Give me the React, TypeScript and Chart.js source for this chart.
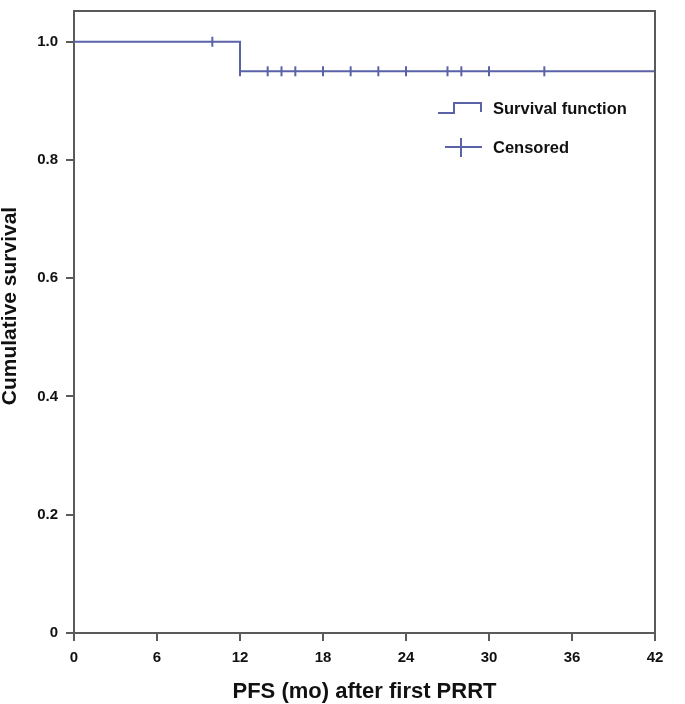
import React, { useEffect, useRef } from "react";
import { Chart, registerables } from "chart.js";

Chart.register(...registerables);

const stepTimes = [0, 12, 12, 42];
const stepSurvival = [1.0, 1.0, 0.95, 0.95];
const censoredTimes = [10, 12, 14, 15, 16, 18, 20, 22, 24, 27, 28, 30, 34];
const censoredSurvival = [1.0, 0.95, 0.95, 0.95, 0.95, 0.95, 0.95, 0.95, 0.95, 0.95, 0.95, 0.95, 0.95];
const xTicks = [0, 6, 12, 18, 24, 30, 36, 42];
const yTicks = [0, 0.2, 0.4, 0.6, 0.8, 1.0];
const legendLabels = ["Survival function", "Censored"];
const yTitle = "Cumulative survival";
const xTitle = "PFS (mo) after first PRRT";

const LINE = "#5b63a8";
const AXIS = "#5a5a5a";
const FONT = "Arial, 'Liberation Sans', sans-serif";

export default function App() {
  const ref = useRef<HTMLCanvasElement>(null);
  useEffect(() => {
    document.body.style.margin = "0";
    const framePlugin = {
      id: "frame",
      afterDraw(chart: any) {
        const { ctx, chartArea: a } = chart;
        ctx.save();
        ctx.strokeStyle = AXIS;
        ctx.lineWidth = 2;
        ctx.beginPath();
        ctx.moveTo(a.left, a.top);
        ctx.lineTo(a.right, a.top);
        ctx.lineTo(a.right, a.bottom);
        ctx.stroke();
        // y title
        ctx.save();
        ctx.translate(10, 306);
        ctx.rotate(-Math.PI / 2);
        ctx.fillStyle = "#111";
        ctx.font = "bold 21px " + FONT;
        ctx.textAlign = "center";
        ctx.textBaseline = "middle";
        ctx.fillText(yTitle, 0, 0);
        ctx.restore();
        // legend
        ctx.strokeStyle = LINE;
        ctx.lineWidth = 2;
        ctx.beginPath();
        ctx.moveTo(438, 113);
        ctx.lineTo(454, 113);
        ctx.lineTo(454, 103);
        ctx.lineTo(481, 103);
        ctx.lineTo(481, 112);
        ctx.stroke();
        ctx.beginPath();
        ctx.moveTo(445, 147);
        ctx.lineTo(482, 147);
        ctx.moveTo(461, 138);
        ctx.lineTo(461, 157);
        ctx.stroke();
        ctx.fillStyle = "#111";
        ctx.font = "bold 16.5px " + FONT;
        ctx.textBaseline = "middle";
        ctx.textAlign = "left";
        ctx.fillText(legendLabels[0], 493, 109);
        ctx.fillText(legendLabels[1], 493, 148);
        ctx.restore();
      },
    };
    const chart = new Chart(ref.current!, {
      type: "scatter",
      data: {
        datasets: [
          {
            label: legendLabels[0],
            data: stepTimes.map((t, i) => ({ x: t, y: stepSurvival[i] })),
            showLine: true,
            borderColor: LINE,
            borderWidth: 2,
            pointRadius: 0,
          },
          {
            label: legendLabels[1],
            data: censoredTimes.map((t, i) => ({ x: t, y: censoredSurvival[i] })),
            showLine: false,
            borderColor: LINE,
            backgroundColor: LINE,
            pointStyle: "line",
            rotation: 90,
            pointRadius: 5,
            pointBorderWidth: 2,
          },
        ],
      },
      plugins: [framePlugin],
      options: {
        animation: false,
        responsive: false,
        layout: { padding: { left: 0, right: 30, top: 11, bottom: 0 } },
        plugins: { legend: { display: false }, tooltip: { enabled: false } },
        scales: {
          x: {
            type: "linear",
            min: 0,
            max: 42,
            afterBuildTicks: (s: any) => {
              s.ticks = xTicks.map((v) => ({ value: v }));
            },
            afterFit: (s: any) => {
              s.height = 71;
              s.paddingLeft = 0;
              s.paddingRight = 0;
            },
            border: { color: AXIS, width: 2 },
            grid: { drawOnChartArea: false, drawTicks: true, tickLength: 8, color: AXIS, lineWidth: 2 },
            ticks: { color: "#111", font: { family: FONT, size: 15, weight: "bold" }, padding: 8, maxRotation: 0 },
            title: {
              display: true,
              text: xTitle,
              color: "#111",
              font: { family: FONT, size: 22, weight: "bold" },
              padding: { top: 10, bottom: -1 },
            },
          },
          y: {
            type: "linear",
            min: 0,
            max: 1.052,
            afterBuildTicks: (s: any) => {
              s.ticks = yTicks.map((v) => ({ value: v }));
            },
            afterFit: (s: any) => {
              s.width = 74;
              s.paddingTop = 0;
              s.paddingBottom = 0;
            },
            border: { color: AXIS, width: 2 },
            grid: { drawOnChartArea: false, drawTicks: true, tickLength: 8, color: AXIS, lineWidth: 2 },
            ticks: {
              color: "#111",
              font: { family: FONT, size: 15, weight: "bold" },
              padding: 8,
              callback: (v: any) => (v === 0 ? "0" : Number(v).toFixed(1)),
            },
            title: { display: false },
          },
        },
      },
    } as any);
    return () => chart.destroy();
  }, []);
  return (
    <div style={{ position: "absolute", left: 0, top: 0, width: 685, height: 704 }}>
      <canvas ref={ref} width={685} height={704} style={{ display: "block" }} />
    </div>
  );
}
